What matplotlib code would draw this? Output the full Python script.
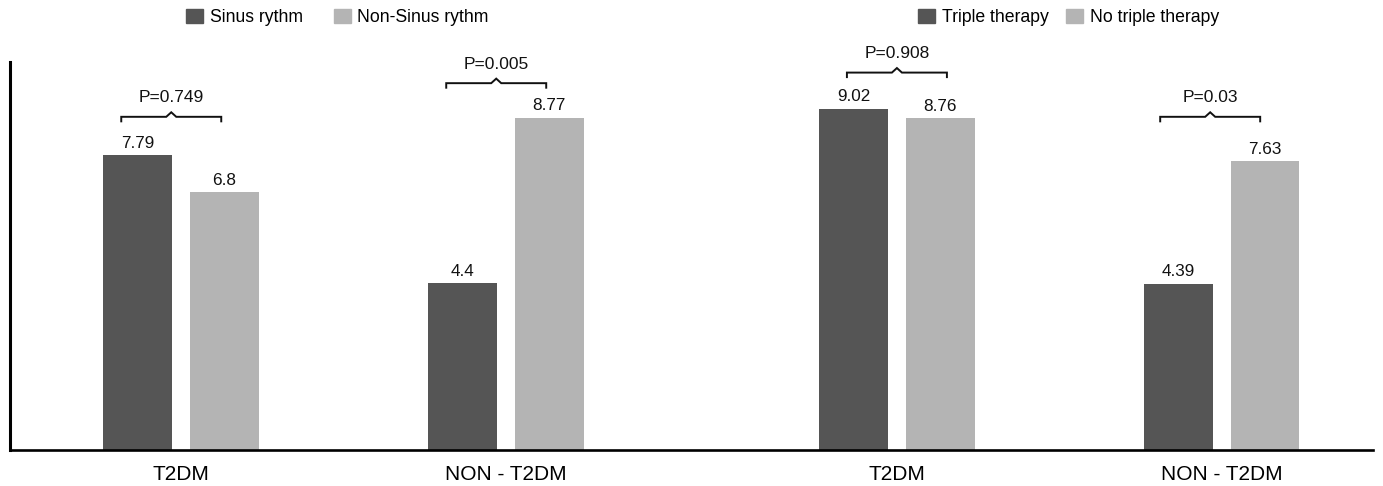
import matplotlib
matplotlib.use("Agg")
import matplotlib.pyplot as plt
from matplotlib.patches import Patch

plt.rcParams['font.family'] = ['Liberation Sans', 'DejaVu Sans']

# ---- data ----
categories = ["T2DM", "NON - T2DM", "T2DM", "NON - T2DM"]
dark_values = [7.79, 4.4, 9.02, 4.39]
light_values = [6.8, 8.77, 8.76, 7.63]
dark_labels = ["7.79", "4.4", "9.02", "4.39"]
light_labels = ["6.8", "8.77", "8.76", "7.63"]
p_values = ["P=0.749", "P=0.005", "P=0.908", "P=0.03"]
legend_left = ["Sinus rythm", "Non-Sinus rythm"]
legend_right = ["Triple therapy", "No triple therapy"]

# ---- layout ----
group_pos = [0.0, 1.0, 2.203, 3.203]
bracket_y = [8.80, 9.69, 9.97, 8.80]
bracket_dx = [-0.03, -0.03, 0.0, -0.036]
bar_w = 0.2105
off = 0.1335
DARK = "#555555"
LIGHT = "#b4b4b4"

W, H = 1383, 486
fig = plt.figure(figsize=(W / 100, H / 100), dpi=100)
ax = fig.add_axes([10 / W, (H - 449.5) / H, (1373 - 10) / W, (449.5 - 62) / H])

xd = [g - off for g in group_pos]
xl = [g + off for g in group_pos]
bd = ax.bar(xd, dark_values, width=bar_w, color=DARK)
bl = ax.bar(xl, light_values, width=bar_w, color=LIGHT)

for x, v, t in zip(xd, dark_values, dark_labels):
    ax.annotate(t, (x, v), xytext=(0, 5.4), textcoords="offset points",
                ha="center", va="baseline", fontsize=12.3, color="#111111")
for x, v, t in zip(xl, light_values, light_labels):
    ax.annotate(t, (x, v), xytext=(0, 5.4), textcoords="offset points",
                ha="center", va="baseline", fontsize=12.3, color="#111111")

# brackets
half = 0.3077 / 2
tick = 0.12
peak_h = 0.12
peak_w = 0.0154
for g, y, dx, p in zip(group_pos, bracket_y, bracket_dx, p_values):
    c = g + dx
    xs = [c - half, c - half, c - peak_w, c, c + peak_w, c + half, c + half]
    ys = [y - tick, y, y, y + peak_h, y, y, y - tick]
    ax.plot(xs, ys, color="#111111", lw=1.4, solid_joinstyle="miter", clip_on=False)
    ax.annotate(p, (c, y), xytext=(0, 10.4), textcoords="offset points",
                ha="center", va="baseline", fontsize=12.5, color="#111111")

ax.set_xlim(-0.5262, 3.668)
ax.set_ylim(0, 10.25)
ax.set_xticks(group_pos)
ax.set_xticklabels(categories, fontsize=15)
ax.set_yticks([])
ax.tick_params(axis="x", length=0, pad=11)
for s in ["top", "right"]:
    ax.spines[s].set_visible(False)
ax.spines["left"].set_linewidth(2.2)
ax.spines["bottom"].set_linewidth(1.9)
ax.spines["left"].set_color("black")
ax.spines["bottom"].set_color("black")

fs = 12.7
common = dict(loc="center left", frameon=False, ncol=2, fontsize=fs,
              handlelength=17 / (fs * 100 / 72), handleheight=15 / (fs * 100 / 72),
              handletextpad=6.6 / (fs * 100 / 72), borderpad=0, borderaxespad=0)
leg1 = fig.legend([Patch(color=DARK), Patch(color=LIGHT)], legend_left,
                  bbox_to_anchor=(186 / W, 1 - 17.5 / H),
                  columnspacing=31 / (fs * 100 / 72), **common)
leg2 = fig.legend([Patch(color=DARK), Patch(color=LIGHT)], legend_right,
                  bbox_to_anchor=(918 / W, 1 - 17.5 / H),
                  columnspacing=18 / (fs * 100 / 72), **common)

fig.savefig("out.png", dpi=100)
